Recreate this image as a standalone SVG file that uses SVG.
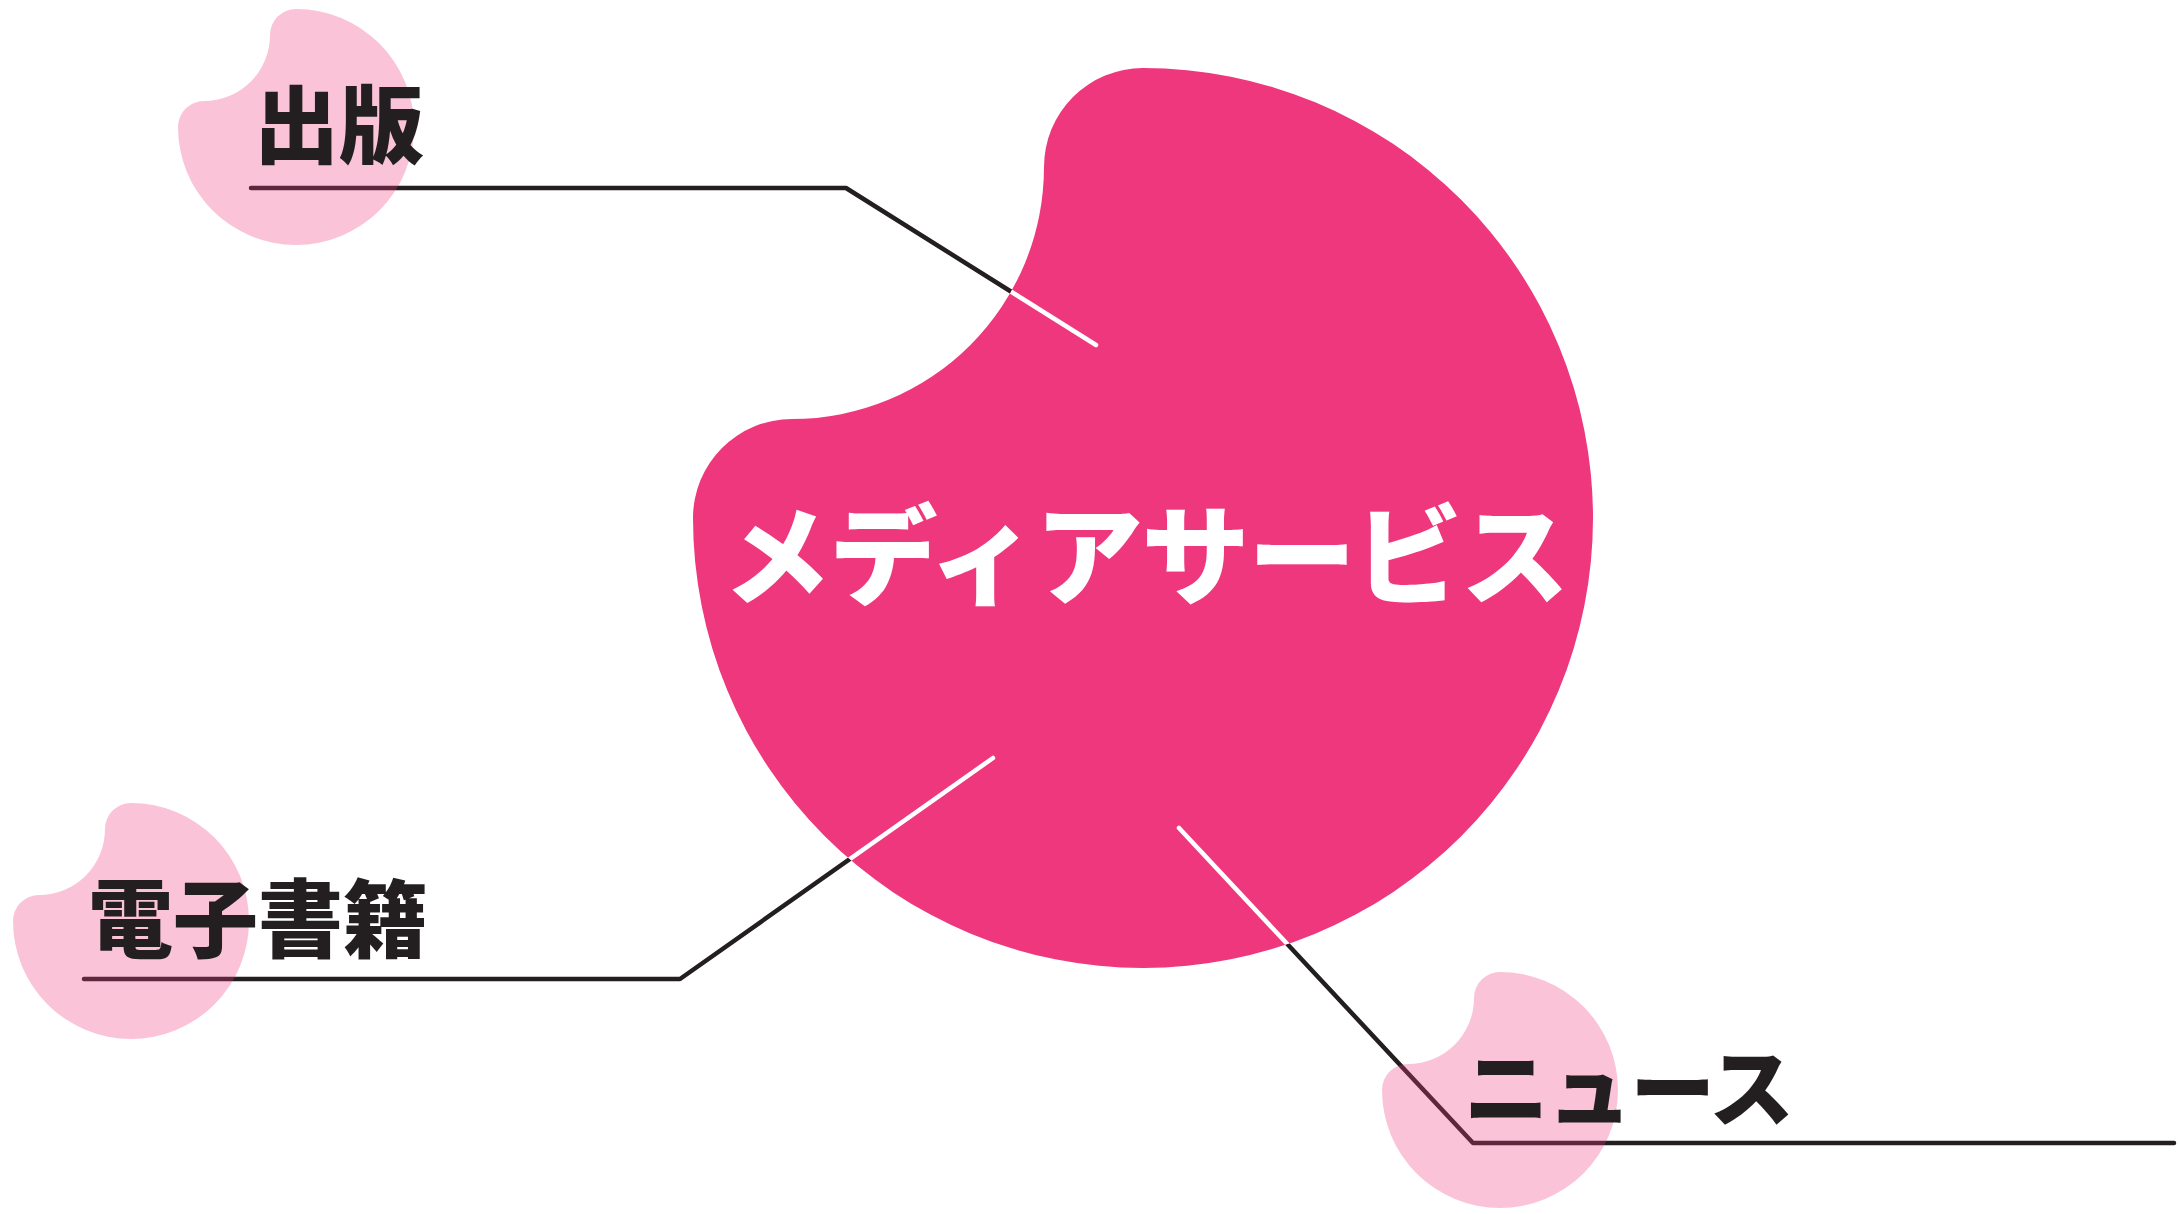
<svg xmlns="http://www.w3.org/2000/svg" width="2178" height="1214" viewBox="0 0 2178 1214">
<style>
.conn{fill:none;stroke:#231f20;stroke-width:4.5;stroke-linecap:round;stroke-linejoin:round}
.connw{fill:none;stroke:#ffffff;stroke-width:4.5;stroke-linecap:round;stroke-linejoin:round}
.sblob{fill:#ee377d;fill-opacity:0.3}
.lbl{font-family:"Noto Sans CJK JP","Noto Sans CJK SC",sans-serif;font-weight:900;font-size:85px;fill:#231f20}
.main{font-family:"Noto Sans CJK JP","Noto Sans CJK SC",sans-serif;font-weight:900;font-size:108px;fill:#ffffff}
</style>
<defs>
<path id="blob" d="M0,-118 A26,26 0 0 0 -26,-92 A66,66 0 0 1 -92,-26 A26,26 0 0 0 -118,0 A118,118 0 1 0 0,-118 Z"/>
<clipPath id="mainclip">
<path d="M1143,68 A99,99 0 0 0 1044,167 A252,252 0 0 1 792,419 A99,99 0 0 0 693,518 A450,450 0 1 0 1143,68 Z"/>
</clipPath>
</defs>
<rect width="2178" height="1214" fill="#ffffff"/>
<g id="connectors">
<polyline class="conn" points="251,188 846,188 1096,345"/>
<polyline class="conn" points="84,979 680,979 993,758"/>
<polyline class="conn" points="1179,828 1473,1143 2174,1143"/>
</g>
<g id="media-service">
<path fill="#ee377d" d="M1143,68 A99,99 0 0 0 1044,167 A252,252 0 0 1 792,419 A99,99 0 0 0 693,518 A450,450 0 1 0 1143,68 Z"/>
<g clip-path="url(#mainclip)">
<polyline class="connw" points="251,188 846,188 1096,345"/>
<polyline class="connw" points="84,979 680,979 993,758"/>
<polyline class="connw" points="1179,828 1473,1143 2174,1143"/>
</g>
<text class="main" x="723" y="549" dominant-baseline="central" textLength="846" lengthAdjust="spacing">メディアサービス</text>
</g>
<g id="publishing">
<use href="#blob" class="sblob" transform="translate(296,127)"/>
<text class="lbl" x="254" y="119" dominant-baseline="central">出版</text>
</g>
<g id="ebooks">
<use href="#blob" class="sblob" transform="translate(131,921)"/>
<text class="lbl" x="88" y="913" dominant-baseline="central">電子書籍</text>
</g>
<g id="news">
<use href="#blob" class="sblob" transform="translate(1500,1090)"/>
<text class="lbl" x="1464" y="1082" dominant-baseline="central" textLength="330" lengthAdjust="spacing">ニュース</text>
</g>
</svg>
